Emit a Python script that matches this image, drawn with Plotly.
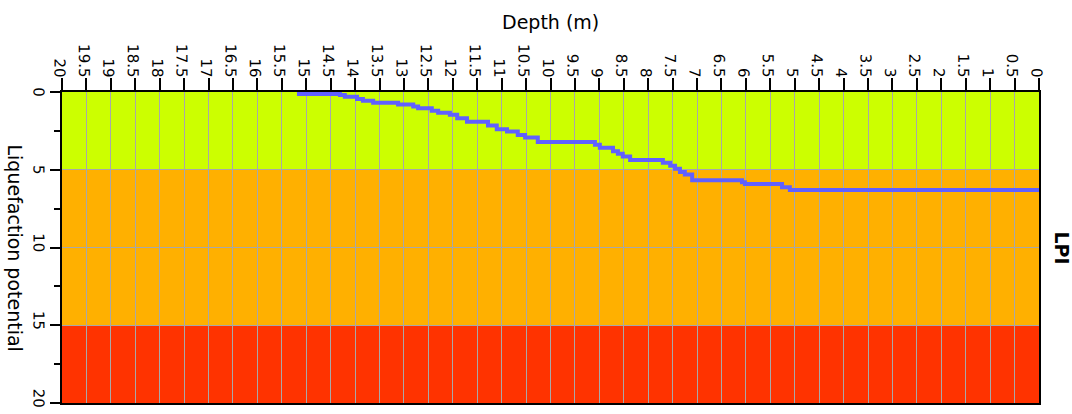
import plotly.graph_objects as go

# LPI profile (depth in m, cumulative LPI value held from that depth downward)
depth = [0.0, 5.10, 5.26, 6.02, 6.08, 7.10, 7.25, 7.35, 7.45, 7.55, 7.70,
         8.37, 8.52, 8.62, 8.72, 8.99, 9.09, 10.26, 10.52, 10.67, 10.89,
         11.10, 11.28, 11.71, 11.91, 12.06, 12.30, 12.43, 12.71, 12.81,
         13.12, 13.63, 13.84, 13.96, 14.21, 14.31, 15.19]
lpi = [6.31, 6.12, 5.92, 5.81, 5.67, 5.30, 5.15, 4.94, 4.74, 4.55, 4.38,
       4.15, 3.97, 3.81, 3.59, 3.40, 3.22, 2.93, 2.76, 2.54, 2.40,
       2.16, 1.92, 1.69, 1.47, 1.33, 1.20, 1.05, 0.94, 0.81,
       0.69, 0.56, 0.45, 0.30, 0.19, 0.13, 0.13]

# Liquefaction potential classes (bands)
band_low = [0, 5, 15]
band_high = [5, 15, 20]
band_colors = ["#CCFF00", "#FFB000", "#FF3300"]

x_tick_vals = [i * 0.5 for i in range(41)]
x_tick_text = [("%g" % v) for v in x_tick_vals]

FONT = "DejaVu Sans, Verdana, sans-serif"

fig = go.Figure()
fig.add_trace(go.Scatter(
    x=depth, y=lpi, mode="lines", line=dict(color="#6060FF", width=4, shape="hv"),
    showlegend=False, hoverinfo="skip"))

for lo, hi, c in zip(band_low, band_high, band_colors):
    fig.add_shape(type="rect", xref="x", yref="y", x0=20, x1=0, y0=lo, y1=hi,
                  fillcolor=c, line=dict(width=0), layer="below")

fig.update_layout(
    width=1072, height=414,
    margin=dict(l=62, r=33, t=92, b=11, autoexpand=False),
    paper_bgcolor="white", plot_bgcolor="white",
    font=dict(family=FONT, size=15, color="black"),
    xaxis=dict(side="top", range=[20, 0], tickvals=x_tick_vals, ticktext=x_tick_text,
               tickangle=89.9, ticks="outside", ticklen=12, tickwidth=2, tickcolor="black",
               ticklabelstandoff=-13,
               showgrid=True, gridcolor="#A8A8A8", gridwidth=1,
               showline=True, linecolor="black", linewidth=2, mirror=True,
               zeroline=False, tickfont=dict(size=15)),
    yaxis=dict(range=[20, 0], tickvals=[0, 5, 10, 15, 20], tickangle=89.9,
               ticks="outside", ticklen=10, tickwidth=2, tickcolor="black",
               ticklabelshift=-7, ticklabelstandoff=6,
               minor=dict(tickvals=[2.5, 7.5, 12.5, 17.5], ticks="outside", ticklen=6,
                          tickwidth=2, tickcolor="black", showgrid=False),
               showgrid=True, gridcolor="#A8A8A8", gridwidth=1,
               showline=True, linecolor="black", linewidth=2, mirror=True,
               zeroline=False, tickfont=dict(size=15)),
    annotations=[
        dict(text="Depth (m)", xref="paper", yref="paper", x=0.5, y=1,
             xanchor="center", yanchor="middle",
             yshift=70, showarrow=False, font=dict(size=19)),
        dict(text="Liquefaction potential", xref="paper", yref="paper", x=0, y=0.5,
             xanchor="center", yanchor="middle",
             xshift=-47, textangle=90, showarrow=False, font=dict(size=19)),
        dict(text="<b>LPI</b>", xref="paper", yref="paper", x=1, y=0.5,
             xanchor="center", yanchor="middle",
             xshift=23, textangle=90, showarrow=False, font=dict(size=19)),
    ],
)

fig.write_html("out.html", config={"displayModeBar": False},
               post_script="document.body.style.margin='0';document.body.style.overflow='hidden';")
